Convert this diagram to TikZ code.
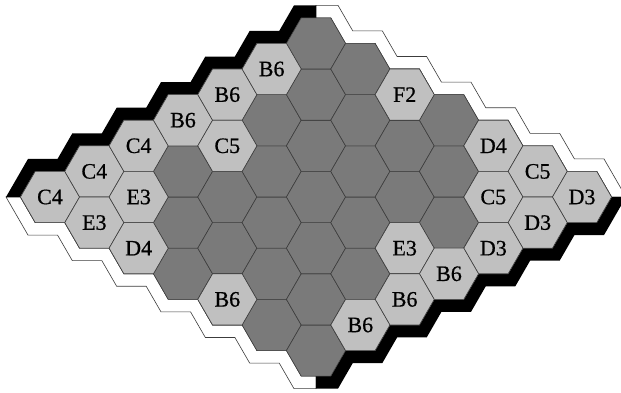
\documentclass[tikz,border=0pt]{standalone}
\usepackage{fontspec}
\setmainfont{Liberation Serif}
\newfontfamily\cellfont{Liberation Serif}[FakeBold=0.7]
\usetikzlibrary{shapes.geometric,calc}
\definecolor{lightcell}{RGB}{192,192,192}
\definecolor{darkcell}{RGB}{122,122,122}
\definecolor{hexline}{RGB}{60,60,60}

\begin{document}
\begin{tikzpicture}[
x=1pt, y=-1pt,
hexcell/.style={
regular polygon,
regular polygon sides=6,
minimum size=59.11pt,
inner sep=0pt,
outer sep=0pt,
draw=hexline,
line width=0.6pt
},
freecell/.style={hexcell, fill=darkcell},
markcell/.style={hexcell, fill=lightcell, font=\cellfont\fontsize{22}{22}\selectfont},
blackedge/.style={fill=black},
whiteedge/.style={fill=white, draw=hexline, line width=0.6pt}
]
\useasboundingbox (0,0) rectangle (621,393);

% Cell centres
\foreach \i in {0,...,6}
\foreach \j in {0,...,6}
\coordinate (hex-\i-\j) at ({50+44.333*(\i+\j)},{197+25.596*(\j-\i)});

% White edges
\filldraw[whiteedge] ($(hex-0-0)+(-29.556,0)$)
\foreach \j in {0,...,5} { -- ($(hex-0-\j)+(-14.778,25.596)$) -- ($(hex-0-\j)+(14.778,25.596)$) }
-- ($(hex-0-6)+(-14.778,25.596)$) -- ($(hex-0-6)+(0,25.596)$)
-- ($(hex-0-6)+(0,38.096)$) -- ($(hex-0-6)+(-21.995,38.096)$)
\foreach \j in {5,4,...,0} { -- ($(hex-0-\j)+(7.561,38.096)$) -- ($(hex-0-\j)+(-21.995,38.096)$) }
-- ($(hex-0-0)+(-36.773,12.5)$) -- ($(hex-0-0)+(-43.99,0)$) -- cycle;

\filldraw[whiteedge] ($(hex-6-6)+(29.556,0)$)
\foreach \k in {6,5,...,1} { -- ($(hex-6-\k)+(14.778,-25.596)$) -- ($(hex-6-\k)+(-14.778,-25.596)$) }
-- ($(hex-6-0)+(14.778,-25.596)$) -- ($(hex-6-0)+(0,-25.596)$)
-- ($(hex-6-0)+(0,-38.096)$) -- ($(hex-6-0)+(21.995,-38.096)$)
\foreach \k in {1,...,6} { -- ($(hex-6-\k)+(-7.561,-38.096)$) -- ($(hex-6-\k)+(21.995,-38.096)$) }
-- ($(hex-6-6)+(36.773,-12.5)$) -- ($(hex-6-6)+(43.99,0)$) -- cycle;

% Black edges
\fill[blackedge] ($(hex-0-0)+(-29.556,0)$)
\foreach \i in {0,...,5} { -- ($(hex-\i-0)+(-14.778,-25.596)$) -- ($(hex-\i-0)+(14.778,-25.596)$) }
-- ($(hex-6-0)+(-14.778,-25.596)$) -- ($(hex-6-0)+(0,-25.596)$)
-- ($(hex-6-0)+(0,-38.096)$) -- ($(hex-6-0)+(-21.995,-38.096)$)
\foreach \i in {5,4,...,0} { -- ($(hex-\i-0)+(7.561,-38.096)$) -- ($(hex-\i-0)+(-21.995,-38.096)$) }
-- ($(hex-0-0)+(-36.773,-12.5)$) -- ($(hex-0-0)+(-43.99,0)$) -- cycle;

\fill[blackedge] ($(hex-6-6)+(29.556,0)$)
\foreach \k in {6,5,...,1} { -- ($(hex-\k-6)+(14.778,25.596)$) -- ($(hex-\k-6)+(-14.778,25.596)$) }
-- ($(hex-0-6)+(14.778,25.596)$) -- ($(hex-0-6)+(0,25.596)$)
-- ($(hex-0-6)+(0,38.096)$) -- ($(hex-0-6)+(21.995,38.096)$)
\foreach \k in {1,...,6} { -- ($(hex-\k-6)+(-7.561,38.096)$) -- ($(hex-\k-6)+(21.995,38.096)$) }
-- ($(hex-6-6)+(36.773,12.5)$) -- ($(hex-6-6)+(43.99,0)$) -- cycle;

% Board cells
\foreach \i in {0,...,6}
\foreach \j in {0,...,6}
\node[freecell] (cell-\i-\j) at (hex-\i-\j) {};

% Marked cells
\foreach \i/\j/\lbl in {0/0/C4, 1/0/C4, 2/0/C4, 3/0/B6, 4/0/B6, 5/0/B6,
0/1/E3, 1/1/E3, 3/1/C5, 0/2/D4, 0/4/B6,
6/2/F2, 6/4/D4, 6/5/C5, 6/6/D3, 5/5/C5, 5/6/D3, 4/6/D3,
3/5/E3, 3/6/B6, 2/6/B6, 1/6/B6}
\node[markcell] (mark-\i-\j) at (hex-\i-\j) {\lbl};

\end{tikzpicture}
\end{document}
